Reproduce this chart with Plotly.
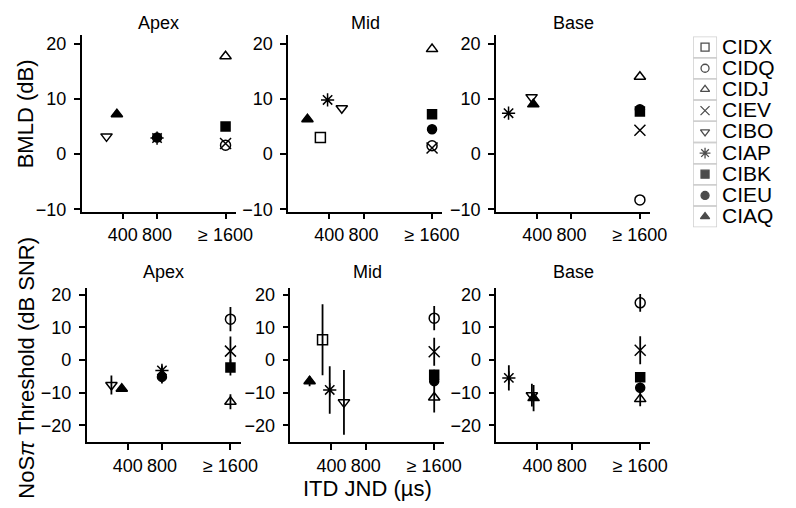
import plotly.graph_objects as go

# ---------------- data ----------------
subjects = ['CIDX', 'CIDQ', 'CIDJ', 'CIEV', 'CIBO', 'CIAP', 'CIBK', 'CIEU', 'CIAQ']
symbols = ['square-open', 'circle-open', 'triangle-up-open', 'x-thin-open',
           'triangle-down-open', 'asterisk-open', 'square', 'circle', 'triangle-up']
places = ['Apex', 'Mid', 'Base']

# ITD JND (us); values >= 1600 plotted at 1600
itd_apex = [None, 1600, 1600, 1600, 210, 800, 1600, 800, 331]
itd_mid = [296, 1600, 1600, 1600, 546, 380, 1600, 1600, 145]
itd_base = [None, 1600, 1600, 1600, 335, 66, 1600, 1600, 355]

# BMLD (dB)
bmld_apex = [None, 1.6, 17.7, 1.9, 3.2, 2.9, 5.0, 3.0, 7.2]
bmld_mid = [3.0, 1.5, 19.0, 1.1, 8.3, 9.8, 7.2, 4.5, 6.3]
bmld_base = [None, -8.3, 14.0, 4.3, 10.3, 7.4, 7.7, 8.1, 9.0]

# NoSpi threshold (dB SNR) and error
thr_apex = [None, 12.5, -12.8, 2.7, -7.7, -3.2, -2.3, -5.2, -8.8]
thr_apex_err = [None, 3.7, 2.3, 4.5, 2.9, 1.5, 2.5, 2.0, 0.8]
thr_mid = [6.2, 12.8, -11.5, 2.5, -13.0, -9.2, -4.5, -6.5, -6.5]
thr_mid_err = [10.9, 3.7, 4.6, 4.3, 9.9, 7.3, 1.5, 1.5, 1.6]
thr_base = [None, 17.5, -12.0, 3.0, -10.8, -5.5, -5.3, -8.5, -11.7]
thr_base_err = [None, 2.7, 2.2, 4.3, 3.5, 3.9, 1.5, 1.5, 4.0]

x_tickvals = [400, 800, 1600]
x_ticktext = ['400', '800', '\u2265 1600']
top_tickvals = [-10, 0, 10, 20]
top_ticktext = ['\u221210', '0', '10', '20']
bot_tickvals = [-20, -10, 0, 10, 20]
bot_ticktext = ['\u221220', '\u221210', '0', '10', '20']

# ---------------- layout helpers ----------------
W, H = 796, 508
FONT = 'Liberation Sans, Arial, Helvetica, sans-serif'


def xd(a, b):
    return [a / W, b / W]


def yd(top, bottom):
    return [1 - bottom / H, 1 - top / H]


top_x = [(75.3, 232.8), (286.3, 443.8), (498.7, 656.2)]
bot_x = [(80.3, 237.8), (288.5, 446.0), (499.0, 656.5)]
top_y = (25, 205)
bot_y = (283.3, 440.7)

fig = go.Figure()

itd = [itd_apex, itd_mid, itd_base]
bmld = [bmld_apex, bmld_mid, bmld_base]
thr = [thr_apex, thr_mid, thr_base]
thr_err = [thr_apex_err, thr_mid_err, thr_base_err]


def msize(sym):
    if sym in ('circle', 'square'):
        return 9
    if sym in ('x-thin-open', 'asterisk-open'):
        return 11
    return 10


for p in range(3):
    ax_top = p + 1
    ax_bot = p + 4
    for i, s in enumerate(subjects):
        if itd[p][i] is None:
            continue
        mk = dict(symbol=symbols[i], size=msize(symbols[i]), color='black',
                  line=dict(color='black', width=1.5))
        fig.add_trace(go.Scatter(
            x=[itd[p][i]], y=[bmld[p][i]], mode='markers', marker=mk,
            xaxis='x%d' % ax_top if ax_top > 1 else 'x',
            yaxis='y%d' % ax_top if ax_top > 1 else 'y',
            showlegend=False, name=s))
        fig.add_trace(go.Scatter(
            x=[itd[p][i]], y=[thr[p][i]], mode='markers', marker=mk,
            error_y=dict(type='data', array=[thr_err[p][i]], visible=True,
                         color='black', thickness=1.8, width=0),
            xaxis='x%d' % ax_bot, yaxis='y%d' % ax_bot,
            showlegend=False, name=s))

axis_common = dict(showline=True, linecolor='black', linewidth=1.6,
                   ticks='outside', ticklen=6, tickwidth=1.5, tickcolor='black',
                   showgrid=False, zeroline=False,
                   tickfont=dict(family=FONT, size=18, color='black'))

layout = dict(width=W, height=H, margin=dict(l=0, r=0, t=0, b=0),
              paper_bgcolor='white', plot_bgcolor='white', showlegend=False,
              font=dict(family=FONT, color='black'))

for p in range(3):
    a = p + 1
    xk = 'xaxis' if a == 1 else 'xaxis%d' % a
    yk = 'yaxis' if a == 1 else 'yaxis%d' % a
    layout[xk] = dict(axis_common, domain=xd(*top_x[p]), range=[-80, 1720],
                      tickvals=x_tickvals, ticktext=x_ticktext,
                      anchor='y' if a == 1 else 'y%d' % a)
    layout[yk] = dict(axis_common, domain=yd(*top_y), range=[-10.41, 21.47],
                      tickvals=top_tickvals, ticktext=top_ticktext,
                      ticklabelstandoff=4,
                      anchor='x' if a == 1 else 'x%d' % a)
    b = p + 4
    layout['xaxis%d' % b] = dict(axis_common, domain=xd(*bot_x[p]), range=[-80, 1720],
                                 tickvals=x_tickvals, ticktext=x_ticktext,
                                 anchor='y%d' % b)
    layout['yaxis%d' % b] = dict(axis_common, domain=yd(*bot_y), range=[-25.2, 22.0],
                                 tickvals=bot_tickvals, ticktext=bot_ticktext,
                                 ticklabelstandoff=4,
                                 anchor='x%d' % b)

# legend axis
n = len(subjects)
layout['xaxis7'] = dict(domain=xd(700.0, 724.5), range=[-0.5, 0.5], visible=False,
                        anchor='y7', fixedrange=True)
layout['yaxis7'] = dict(domain=yd(26, 221), range=[n - 0.5, -0.5], visible=False,
                        anchor='x7', fixedrange=True)

fig.add_trace(go.Scatter(
    x=[0] * n, y=list(range(n)), mode='markers', xaxis='x7', yaxis='y7',
    marker=dict(symbol=symbols,
                size=[8 if s not in ('x-thin-open', 'asterisk-open') else 9 for s in symbols],
                color='black', line=dict(color='black', width=1.3)),
    showlegend=False, hoverinfo='skip'))

shapes = []
for i in range(n):
    shapes.append(dict(type='rect', xref='x7', yref='y7', x0=-0.5, x1=0.5,
                       y0=i - 0.5, y1=i + 0.5, line=dict(color='#cfcfcf', width=1.5),
                       fillcolor='rgba(0,0,0,0)', layer='below'))

annotations = []
for i, s in enumerate(subjects):
    annotations.append(dict(text=s, xref='paper', yref='y7', x=727.5 / W, y=i,
                            xanchor='left', yanchor='middle', showarrow=False, yshift=1,
                            font=dict(family=FONT, size=21, color='black')))

for p in range(3):
    for (xs, ypx) in ((top_x[p], 12), (bot_x[p], 267)):
        annotations.append(dict(text=places[p], xref='paper', yref='paper',
                                x=(xs[0] + xs[1]) / 2 / W, y=1 - ypx / H,
                                xanchor='center', yanchor='middle', showarrow=False,
                                font=dict(family=FONT, size=18, color='black')))

annotations.append(dict(text='BMLD (dB)', xref='paper', yref='paper', x=18 / W,
                        y=1 - 105 / H, textangle=-90, xanchor='center', yanchor='middle',
                        showarrow=False, font=dict(family=FONT, size=22, color='black')))
annotations.append(dict(text='NoS<i>\u03c0</i> Threshold (dB SNR)', xref='paper', yref='paper',
                        x=18 / W, y=1 - 365 / H, textangle=-90, xanchor='center',
                        yanchor='middle', showarrow=False,
                        font=dict(family=FONT, size=22, color='black')))
annotations.append(dict(text='ITD JND (\u00b5s)', xref='paper', yref='paper', x=367 / W,
                        y=1 - 488 / H, xanchor='center', yanchor='middle', showarrow=False,
                        font=dict(family=FONT, size=22, color='black')))

layout['shapes'] = shapes
layout['annotations'] = annotations
fig.update_layout(**layout)

fig.write_html('out.html')
